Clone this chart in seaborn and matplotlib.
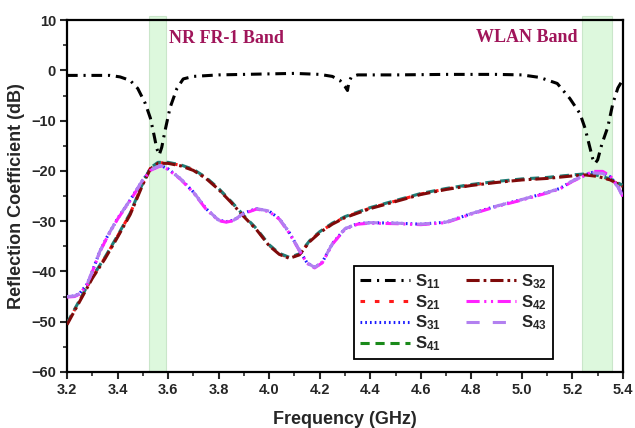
import numpy as np
import pandas as pd
import matplotlib
matplotlib.use("Agg")
import matplotlib.pyplot as plt
import seaborn as sns
from matplotlib.ticker import MultipleLocator

# ---------------- data ----------------
f_s11 = [3.20, 3.30, 3.37, 3.41, 3.45, 3.48, 3.51, 3.53, 3.545, 3.555, 3.565, 3.575, 3.588, 3.608,
         3.635, 3.66, 3.70, 3.80, 3.90, 4.00, 4.10, 4.20, 4.25, 4.28, 4.30, 4.31, 4.315, 4.325,
         4.35, 4.50, 4.70, 4.90, 5.00, 5.07, 5.14, 5.19, 5.23, 5.25, 5.265, 5.28, 5.29, 5.30,
         5.317, 5.34, 5.36, 5.38, 5.40]
s11 = [-1.0, -1.0, -1.0, -1.3, -2.0, -3.6, -6.6, -9.5, -13.0, -15.5, -16.8, -15.3, -12.0, -7.4,
       -3.6, -1.7, -1.2, -0.9, -0.8, -0.7, -0.6, -0.8, -1.2, -2.0, -3.2, -4.0, -2.5, -1.3,
       -0.9, -0.9, -0.8, -0.8, -0.9, -1.4, -2.6, -5.6, -8.6, -11.5, -14.5, -17.5, -18.5, -17.8,
       -14.6, -11.3, -6.6, -3.5, -1.8]

f_a = [3.20, 3.25, 3.30, 3.35, 3.40, 3.45, 3.50, 3.53, 3.56, 3.60, 3.65, 3.70, 3.75, 3.80, 3.85,
       3.90, 3.95, 4.00, 4.04, 4.08, 4.12, 4.16, 4.20, 4.25, 4.30, 4.40, 4.50, 4.60, 4.70, 4.80,
       4.90, 5.00, 5.10, 5.20, 5.25, 5.30, 5.35, 5.40]
s21 = [-50.4, -45.8, -41.2, -37.3, -33.0, -28.5, -22.5, -19.5, -18.4, -18.4, -18.9, -19.8, -21.4,
       -23.6, -26.2, -29.0, -31.6, -34.8, -36.5, -37.3, -36.6, -34.0, -32.2, -30.5, -29.2, -27.4,
       -26.0, -24.6, -23.6, -22.8, -22.2, -21.7, -21.4, -20.9, -20.7, -21.0, -21.7, -23.0]
s32 = [-50.6, -46.0, -41.4, -37.5, -33.2, -28.7, -22.7, -19.6, -18.5, -18.5, -19.0, -19.9, -21.5,
       -23.7, -26.3, -29.1, -31.7, -34.9, -36.6, -37.4, -36.7, -34.1, -32.3, -30.6, -29.3, -27.5,
       -26.1, -24.7, -23.7, -22.9, -22.3, -21.8, -21.5, -21.0, -20.8, -21.1, -21.8, -23.1]
s41 = [-50.3, -45.7, -41.1, -37.2, -32.9, -28.4, -22.4, -19.4, -18.3, -18.3, -18.8, -19.7, -21.3,
       -23.5, -26.1, -28.9, -31.5, -34.7, -36.4, -37.2, -36.5, -33.9, -32.1, -30.4, -29.1, -27.3,
       -25.9, -24.5, -23.5, -22.7, -22.1, -21.6, -21.3, -20.8, -20.6, -20.9, -21.6, -22.9]

f_b = [3.20, 3.23, 3.25, 3.28, 3.30, 3.33, 3.36, 3.40, 3.45, 3.50, 3.53, 3.57, 3.60, 3.65, 3.70,
       3.75, 3.80, 3.83, 3.86, 3.90, 3.95, 4.00, 4.04, 4.08, 4.12, 4.15, 4.18, 4.21, 4.25, 4.30,
       4.35, 4.40, 4.50, 4.60, 4.70, 4.80, 4.90, 5.00, 5.10, 5.15, 5.20, 5.25, 5.28, 5.32, 5.35,
       5.38, 5.40]
s31 = [-45.0, -44.9, -44.4, -42.5, -40.0, -36.0, -33.0, -29.5, -25.8, -21.8, -19.8, -18.9, -19.6,
       -21.6, -24.2, -27.5, -29.8, -30.1, -29.8, -28.4, -27.5, -28.0, -29.5, -32.3, -35.8, -38.3,
       -39.2, -38.2, -34.5, -31.5, -30.5, -30.3, -30.4, -30.6, -30.2, -28.5, -27.0, -25.7, -24.3,
       -23.5, -22.0, -20.8, -20.3, -20.3, -21.2, -23.0, -25.0]
s42 = [-45.1, -45.0, -44.5, -42.6, -40.1, -36.1, -33.1, -29.6, -25.9, -21.9, -19.9, -19.0, -19.7,
       -21.7, -24.3, -27.6, -29.9, -30.2, -29.9, -28.5, -27.6, -28.1, -29.6, -32.4, -35.9, -38.4,
       -39.3, -38.3, -34.6, -31.6, -30.6, -30.4, -30.5, -30.7, -30.3, -28.6, -27.1, -25.8, -24.4,
       -23.6, -22.1, -20.9, -20.1, -20.1, -21.0, -23.1, -25.1]
s43 = [-45.0, -44.9, -44.4, -42.5, -40.0, -36.0, -33.0, -29.5, -25.8, -21.8, -19.8, -18.9, -19.6,
       -21.6, -24.2, -27.5, -29.8, -30.1, -29.8, -28.4, -27.5, -28.0, -29.5, -32.3, -35.8, -38.3,
       -39.2, -38.2, -34.5, -31.5, -30.5, -30.3, -30.4, -30.6, -30.2, -28.5, -27.0, -25.7, -24.3,
       -23.5, -22.0, -20.8, -20.4, -20.5, -21.4, -23.2, -25.2]

band_nr = (3.524, 3.592)
band_wlan = (5.238, 5.357)
x_ticks = [3.2, 3.4, 3.6, 3.8, 4.0, 4.2, 4.4, 4.6, 4.8, 5.0, 5.2, 5.4]
y_ticks = [-60, -50, -40, -30, -20, -10, 0, 10]

# ---------------- style ----------------
sns.set_style("ticks")
plt.rcParams['font.family'] = ['Liberation Sans', 'DejaVu Sans']
plt.rcParams['font.weight'] = 'bold'
plt.rcParams['mathtext.fontset'] = 'custom'
plt.rcParams['mathtext.rm'] = 'Liberation Sans:bold'
plt.rcParams['mathtext.it'] = 'Liberation Sans:bold'
plt.rcParams['mathtext.bf'] = 'Liberation Sans:bold'

fig = plt.figure(figsize=(6.35, 4.28), dpi=100)
ax = fig.add_axes([0.1055, 0.131, 0.8755, 0.822])

for b in (band_nr, band_wlan):
    ax.axvspan(b[0], b[1], ymin=0, ymax=1.011, facecolor='#ccf5cc', edgecolor='#b8dcb8',
               lw=0.8, alpha=0.65, clip_on=False, zorder=0)

lw = 2.2
series = [
    ("S$_{11}$", f_s11, s11, 'black', (0, (3.5, 1.9, 0.7, 1.9))),
    ("S$_{21}$", f_a, s21, '#ff1a1a', (0, (1.5, 3.2))),
    ("S$_{31}$", f_b, s31, '#1a1aff', (0, (0.55, 1.0))),
    ("S$_{41}$", f_a, s41, '#1f7f78', (0, (3.0, 1.9))),
    ("S$_{32}$", f_a, s32, '#7f0a0a', (0, (4.3, 1.3, 0.9, 1.3))),
    ("S$_{42}$", f_b, s42, '#ff22ff', (0, (4.3, 1.5, 0.7, 1.5, 0.7, 1.5))),
    ("S$_{43}$", f_b, s43, '#b280f0', (0, (4.3, 4.3))),
]
draw_order = [0, 1, 4, 3, 2, 6, 5]
for i in draw_order:
    name, fx, fy, col, ls = series[i]
    df = pd.DataFrame({"freq": fx, "val": fy})
    sns.lineplot(data=df, x="freq", y="val", ax=ax, color=col, lw=lw, linestyle=ls,
                 zorder=3 + i, legend=False)

ax.set_xlim(3.2, 5.4)
ax.set_ylim(-60, 10)
ax.set_xticks(x_ticks)
ax.set_xticklabels([f"{t:.1f}" for t in x_ticks])
ax.set_yticks(y_ticks)
ax.xaxis.set_minor_locator(MultipleLocator(0.1))
ax.yaxis.set_minor_locator(MultipleLocator(5))
ax.tick_params(axis='both', which='major', direction='out', length=5, width=1.5,
               labelsize=10.5, pad=3)
ax.tick_params(axis='both', which='minor', direction='out', length=3, width=1.2)
ax.tick_params(top=False, right=False, which='both')
for lab in ax.get_xticklabels() + ax.get_yticklabels():
    lab.set_fontweight('bold')
for sp in ax.spines.values():
    sp.set_visible(True)
    sp.set_linewidth(1.6)
    sp.set_color('black')

ax.set_xlabel("Frequency (GHz)", fontsize=13, fontweight='bold', labelpad=10)
ax.set_ylabel("Reflection Coefficient (dB)", fontsize=13, fontweight='bold', labelpad=4)

ax.text(3.605, 6.4, "NR FR-1 Band", color='#a0155a', fontsize=13, fontweight='bold',
        family=['Liberation Serif', 'DejaVu Serif'], ha='left', va='center')
ax.text(5.22, 6.6, "WLAN Band", color='#a0155a', fontsize=13, fontweight='bold',
        family=['Liberation Serif', 'DejaVu Serif'], ha='right', va='center')

handles = []
for i in range(7):
    name, fx, fy, col, ls = series[i]
    c = '#1a8a1a' if i == 3 else col
    handles.append(plt.Line2D([], [], color=c, lw=lw, linestyle=ls))
leg = ax.legend(handles, [s[0] for s in series], ncol=2, loc='lower left',
                bbox_to_anchor=(0.505, 0.018), frameon=True, fancybox=False, framealpha=1,
                edgecolor='black', fontsize=12, handlelength=3.0, handletextpad=0.3,
                columnspacing=1.5, labelspacing=0.12, borderpad=0.35, borderaxespad=0.4)
leg.get_frame().set_linewidth(1.3)

fig.savefig("out.png", dpi=100)
